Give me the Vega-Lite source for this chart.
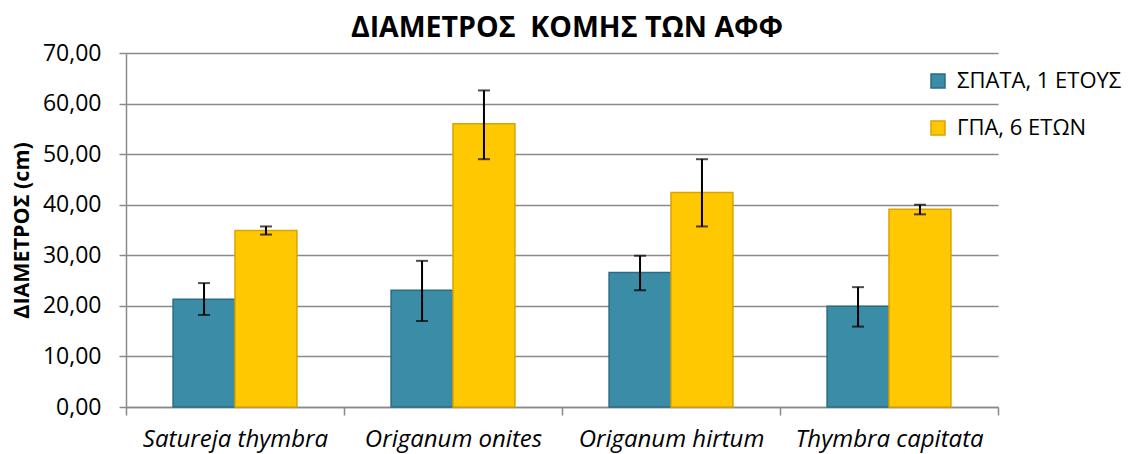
{
  "$schema": "https://vega.github.io/schema/vega-lite/v6.json",
  "width": 872,
  "height": 354,
  "autosize": {"type": "none"},
  "padding": {"left": 126, "top": 53, "right": 131, "bottom": 47},
  "background": "white",
  "title": {
    "text": "ΔΙΑΜΕΤΡΟΣ\u00a0 ΚΟΜΗΣ ΤΩΝ ΑΦΦ",
    "font": "Open Sans",
    "fontSize": 28.5,
    "fontWeight": "bold",
    "color": "#000000",
    "anchor": "middle",
    "baseline": "bottom",
    "offset": -29,
    "dx": 5
  },
  "data": {
    "values": [
      {"species": "Satureja thymbra", "series": "ΣΠΑΤΑ, 1 ΕΤΟΥΣ", "value": 21.3, "lo": 18.2, "hi": 24.5},
      {"species": "Satureja thymbra", "series": "ΓΠΑ, 6 ΕΤΩΝ", "value": 34.9, "lo": 34.1, "hi": 35.7},
      {"species": "Origanum onites", "series": "ΣΠΑΤΑ, 1 ΕΤΟΥΣ", "value": 23.1, "lo": 17.0, "hi": 28.9},
      {"species": "Origanum onites", "series": "ΓΠΑ, 6 ΕΤΩΝ", "value": 56.0, "lo": 49.0, "hi": 62.6},
      {"species": "Origanum hirtum", "series": "ΣΠΑΤΑ, 1 ΕΤΟΥΣ", "value": 26.6, "lo": 23.1, "hi": 29.9},
      {"species": "Origanum hirtum", "series": "ΓΠΑ, 6 ΕΤΩΝ", "value": 42.4, "lo": 35.7, "hi": 49.0},
      {"species": "Thymbra capitata", "series": "ΣΠΑΤΑ, 1 ΕΤΟΥΣ", "value": 19.9, "lo": 15.9, "hi": 23.7},
      {"species": "Thymbra capitata", "series": "ΓΠΑ, 6 ΕΤΩΝ", "value": 39.1, "lo": 38.1, "hi": 40.0}
    ]
  },
  "encoding": {
    "x": {
      "field": "species",
      "type": "nominal",
      "sort": null,
      "scale": {"paddingInner": 0, "paddingOuter": 0},
      "axis": {
        "title": null,
        "labelAngle": 0,
        "labelFont": "Open Sans",
        "labelFontStyle": "italic",
        "labelFontSize": 24,
        "labelColor": "#000000",
        "labelPadding": 12,
        "labelLimit": 300,
        "domainColor": "#8a8a8a",
        "domainWidth": 1.5,
        "tickColor": "#8a8a8a",
        "tickWidth": 1.5,
        "tickSize": 8,
        "tickBand": "extent"
      }
    },
    "xOffset": {
      "field": "series",
      "type": "nominal",
      "sort": ["ΣΠΑΤΑ, 1 ΕΤΟΥΣ", "ΓΠΑ, 6 ΕΤΩΝ"],
      "scale": {"paddingInner": 0, "paddingOuter": 0.76}
    }
  },
  "layer": [
    {
      "mark": {"type": "bar", "strokeWidth": 1.5},
      "encoding": {
        "y": {
          "field": "value",
          "type": "quantitative",
          "scale": {"domain": [0, 70], "nice": false},
          "axis": {
            "title": "ΔΙΑΜΕΤΡΟΣ (cm)",
            "titleFont": "Open Sans",
            "titleFontSize": 21.5,
            "titleFontWeight": "bold",
            "titleColor": "#000000",
            "titlePadding": 9,
            "values": [0, 10, 20, 30, 40, 50, 60, 70],
            "labelExpr": "replace(format(datum.value, '.2f'), '.', ',')",
            "labelFont": "Open Sans",
            "labelFontSize": 23,
            "labelColor": "#000000",
            "labelPadding": 18,
            "grid": true,
            "gridColor": "#8a8a8a",
            "gridWidth": 1.5,
            "domainColor": "#8a8a8a",
            "domainWidth": 1.5,
            "tickColor": "#8a8a8a",
            "tickWidth": 1.5,
            "tickSize": 7
          }
        },
        "color": {
          "field": "series",
          "type": "nominal",
          "scale": {"domain": ["ΣΠΑΤΑ, 1 ΕΤΟΥΣ", "ΓΠΑ, 6 ΕΤΩΝ"], "range": ["#3A8CA7", "#FFC800"]},
          "legend": {
            "title": null,
            "orient": "none",
            "legendX": 801,
            "legendY": 17,
            "labelFont": "Open Sans",
            "labelFontSize": 22,
            "labelColor": "#000000",
            "labelLimit": 400,
            "symbolType": "square",
            "symbolSize": 196,
            "symbolOpacity": 1,
            "rowPadding": 25,
            "labelOffset": 8
          }
        },
        "stroke": {
          "field": "series",
          "type": "nominal",
          "scale": {"domain": ["ΣΠΑΤΑ, 1 ΕΤΟΥΣ", "ΓΠΑ, 6 ΕΤΩΝ"], "range": ["#2A6D82", "#D9A300"]},
          "legend": null
        }
      }
    },
    {
      "mark": {"type": "rule", "color": "#000000", "strokeWidth": 2},
      "encoding": {
        "y": {"field": "lo", "type": "quantitative"},
        "y2": {"field": "hi"}
      }
    },
    {
      "mark": {"type": "tick", "color": "#000000", "thickness": 2, "size": 12},
      "encoding": {
        "y": {"field": "lo", "type": "quantitative"}
      }
    },
    {
      "mark": {"type": "tick", "color": "#000000", "thickness": 2, "size": 12},
      "encoding": {
        "y": {"field": "hi", "type": "quantitative"}
      }
    }
  ],
  "config": {
    "view": {"stroke": null}
  }
}
